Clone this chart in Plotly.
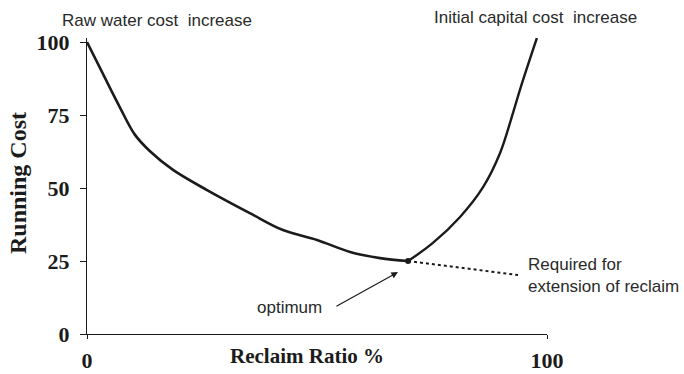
import plotly.graph_objects as go

# Running cost vs reclaim ratio
reclaim_falling = [0, 3.5, 7.2, 10.4, 13.7, 18.7, 26.1, 35.4, 42.6, 50.0, 57.2, 63.7, 69.8]
cost_falling = [100, 89, 77.5, 68.3, 62.6, 56.2, 49.3, 41.4, 35.6, 32.2, 28.1, 26.0, 25.0]

reclaim_rising = [69.8, 75.2, 81.1, 86.1, 89.8, 92.6, 94.3, 97.8]
cost_rising = [25.0, 31.2, 40.1, 50.3, 62.0, 75.7, 84.6, 101.4]

# extension beyond the optimum
reclaim_ext = [69.8, 93.7]
cost_ext = [25.0, 20.2]

optimum = (69.8, 25.0)

x_ticks = [0, 100]
y_ticks = [0, 25, 50, 75, 100]

INK = "#1b1b1b"
SERIF = "Liberation Serif"
SANS = "Liberation Sans"

fig = go.Figure()
fig.add_trace(go.Scatter(
    x=reclaim_falling, y=cost_falling,
    mode="lines", line=dict(color=INK, width=2.6, shape="spline", smoothing=1.0),
    showlegend=False, hoverinfo="skip"))
fig.add_trace(go.Scatter(
    x=reclaim_rising, y=cost_rising,
    mode="lines", line=dict(color=INK, width=2.4, shape="spline", smoothing=1.0),
    showlegend=False, hoverinfo="skip"))
fig.add_trace(go.Scatter(
    x=reclaim_ext, y=cost_ext, mode="lines",
    line=dict(color=INK, width=2, dash="dot"),
    showlegend=False, hoverinfo="skip"))
fig.add_trace(go.Scatter(
    x=[optimum[0]], y=[optimum[1]], mode="markers",
    marker=dict(color=INK, size=6), showlegend=False, hoverinfo="skip"))

sans_font = dict(family=SANS, size=17, color="#2a2a2a")
annotations = [
    dict(x=15.2, y=1.0, xref="x", yref="paper", yanchor="bottom", yshift=6,
         text="Raw water cost  increase", showarrow=False, font=sans_font),
    dict(x=97.5, y=1.0, xref="x", yref="paper", yanchor="bottom", yshift=9,
         text="Initial capital cost  increase", showarrow=False, font=sans_font),
    dict(x=95.5, y=cost_ext[1], xref="x", yref="y", xanchor="left", yanchor="middle",
         text="Required for<br>extension of reclaim", align="left", showarrow=False,
         font=sans_font),
    dict(x=67.6, y=21.2, xref="x", yref="y", ax=53.9, ay=9.2, axref="x", ayref="y",
         text="", showarrow=True, arrowhead=2, arrowsize=1.1, arrowwidth=1.2,
         arrowcolor=INK),
    dict(x=51.5, y=9.0, xref="x", yref="y", xanchor="right", yanchor="middle",
         text="optimum", showarrow=False, font=sans_font),
    dict(x=47.8, y=0, xref="x", yref="paper", yanchor="top", yshift=-8,
         text="<b>Reclaim Ratio %</b>", showarrow=False,
         font=dict(family=SERIF, size=21, color=INK)),
    dict(x=-0.15, y=0.51, xref="paper", yref="paper", textangle=-90,
         xanchor="center", yanchor="middle",
         text="<b>Running Cost</b>", showarrow=False,
         font=dict(family=SERIF, size=24, color=INK)),
]

fig.update_layout(
    width=684, height=374,
    margin=dict(l=87, r=137, t=38, b=40),
    paper_bgcolor="white", plot_bgcolor="white",
    annotations=annotations,
    xaxis=dict(range=[0, 100], tickvals=x_ticks, ticktext=[f"<b>{v}</b>" for v in x_ticks],
               showgrid=False, zeroline=False, showline=True, linecolor=INK, linewidth=1.3,
               ticks="outside", ticklen=4, tickcolor=INK, ticklabelstandoff=2,
               automargin=False,
               tickfont=dict(family=SERIF, size=22, color=INK)),
    yaxis=dict(range=[0, 101.4], tickvals=y_ticks, ticktext=[f"<b>{v}</b>" for v in y_ticks],
               showgrid=False, zeroline=False, showline=True, linecolor=INK, linewidth=1.3,
               ticks="outside", ticklen=6, tickcolor=INK, automargin=False,
               ticklabelstandoff=6,
               tickfont=dict(family=SERIF, size=22, color=INK)),
)

fig.write_html("out.html")
